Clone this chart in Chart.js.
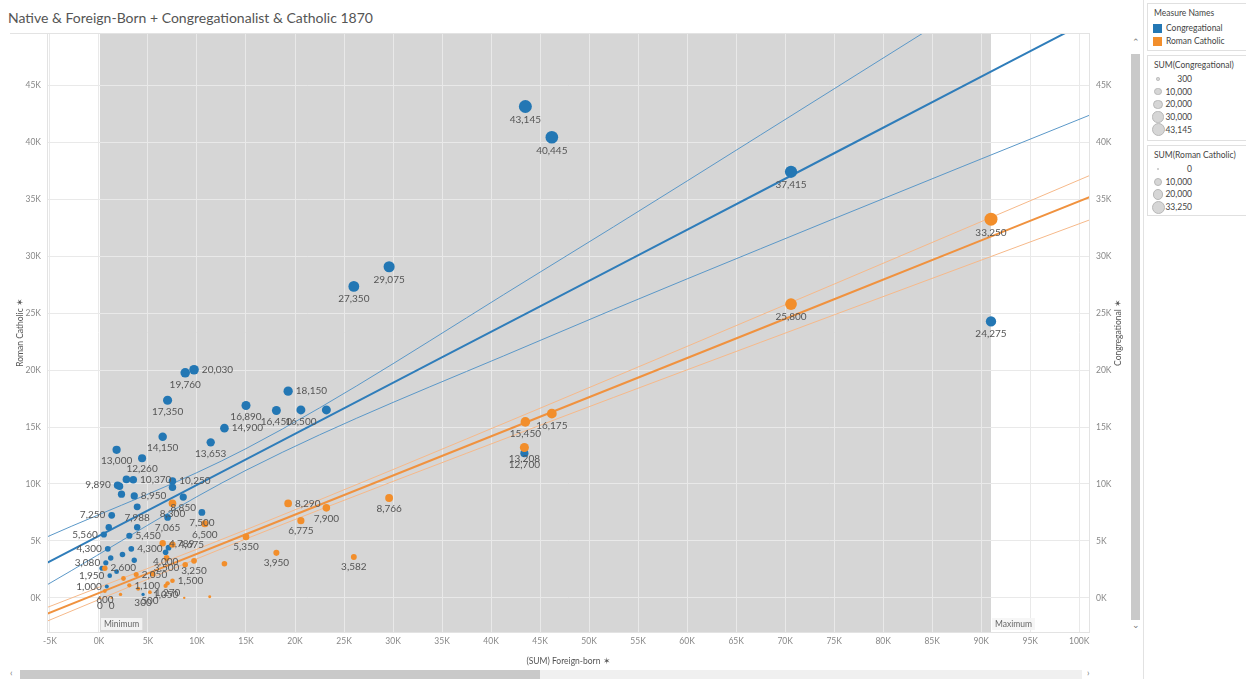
<!DOCTYPE html>
<html>
<head>
<meta charset="utf-8">
<script src="https://cdn.jsdelivr.net/npm/chart.js@4.4.0/dist/chart.umd.min.js"></script>
<style>
  html, body { margin: 0; padding: 0; background: #fff; }
  body { width: 1247px; height: 679px; overflow: hidden; position: relative; font-family: Lato, "Open Sans", sans-serif; }
  #title { position: absolute; left: 8px; top: 9px; font-size: 14px; color: #555; white-space: nowrap; }
  #chartWrap { position: absolute; left: 0; top: 0; width: 1130px; height: 666px; }
  #sep { position: absolute; left: 1143px; top: 0; width: 1px; height: 679px; background: #e2e2e2; }
  .box { position: absolute; left: 1147px; width: 99px; border: 1px solid #e0e0e0; border-right: none; box-sizing: border-box; }
  .hd { position: absolute; left: 6px; font-size: 8.5px; color: #444; white-space: nowrap; }
  .item { position: absolute; left: 18px; font-size: 8.5px; color: #444; white-space: nowrap; }
  .sw { position: absolute; left: 5px; width: 9px; height: 9px; }
  .sz { position: absolute; border-radius: 50%; background: #d6d6d6; border: 1px solid #b8b8b8; box-sizing: border-box; }
  .szl { position: absolute; left: 0; width: 44px; font-size: 8.5px; color: #444; text-align: right; line-height: 12px; }
  #vbar { position: absolute; left: 1131px; top: 54px; width: 9px; height: 566px; background: #c9c9c9; }
  .arrow { position: absolute; font-size: 9px; color: #777; }
  #htrack { position: absolute; left: 20px; top: 670px; width: 1062px; height: 9px; background: #f0f0f0; }
  #hbar { position: absolute; left: 20px; top: 670px; width: 520px; height: 9px; background: #c9c9c9; }
</style>
</head>
<body>
<div id="title">Native &amp; Foreign-Born + Congregationalist &amp; Catholic 1870</div>
<div id="chartWrap"><canvas id="c" width="1130" height="666"></canvas></div>
<div id="sep"></div>
<div id="vbar"></div>
<div class="arrow" style="left:1132px;top:36px;">&#8963;</div>
<div class="arrow" style="left:1132px;top:619px;">&#8964;</div>
<div id="htrack"></div>
<div id="hbar"></div>
<div class="arrow" style="left:10px;top:667px;">&lsaquo;</div>
<div class="arrow" style="left:1087px;top:667px;">&rsaquo;</div>
<div id="legend"></div>

<script>
// ---- Data: 1870 towns, foreign-born population vs. church membership ----
// Congregational membership, keyed by the town's foreign-born count
const congForeignBorn = [43500, 46200, 70600, 29600, 26000, 91000, 9700, 8800, 7000, 15000,
  19300, 18100, 20600, 23200, 12800, 6500, 11400, 43400, 1800, 4400,
  2800, 3500, 1900, 2100, 2300, 3600, 7500, 7500, 8600, 3900,
  1300, 7000, 10500, 500, 3100, 1000, 3900, 900, 3300, 2400,
  1200, 3600, 7100, 700, 300, 1800, 1100, 800, 4500, 6800];
const congregational = [43145, 40445, 37415, 29075, 27350, 24275, 20030, 19760, 17350, 16890,
  18150, 16450, 16500, 16500, 14900, 14150, 13653, 12700, 13000, 12260,
  10400, 10370, 9890, 9800, 9100, 8950, 10250, 9700, 8850, 7988,
  7250, 7065, 7500, 5560, 5450, 6200, 6200, 4300, 4300, 3800,
  3500, 3300, 4400, 3080, 2600, 2300, 1950, 1000, 300, 4000];

// Roman Catholic membership, keyed by the town's foreign-born count
const catholicForeignBorn = [91000, 70600, 46200, 43500, 43400, 29600, 19300, 23200, 20600, 15000,
  18100, 26000, 9700, 8800, 12800, 7500, 10800, 6500, 7500, 6900,
  3800, 600, 7500, 7000, 6800, 3100, 5200, 600, 100, 1300,
  11300, 2200, 4000, 2500, 5500, 8700];
const romanCatholic = [33250, 25800, 16175, 15450, 13208, 8766, 8290, 7900, 6775, 5350,
  3950, 3582, 3250, 2900, 3000, 8300, 6500, 4789, 4675, 3500,
  2050, 2600, 1500, 1270, 1050, 1100, 500, 600, 0, 0,
  100, 300, 800, 1700, 2100, 0];

// Where each value label sits: b = below, r = right, l = left, '' = hidden
const congLabelSide = ['b','b','b','b','b','b','r','b','b','b',
  'r','b','b','','r','b','b','b','b','b',
  '','r','l','','','r','r','','b','b',
  'l','b','b','l','r','','','l','r','',
  '','','','l','','','l','l','b','b'];
const catholicLabelSide = ['b','b','b','b','b','b','r','b','b','b',
  'b','b','b','','','b','b','r','r','b',
  'r','r','r','b','b','r','b','b','b','b',
  '','','','','',''];

// Linear trend lines with their confidence bands (value at each x)
const trendX = [-5300, 15000, 45000, 75000, 101100];
const congTrend = [3070, 12160, 25600, 39040, 50730];
const congUpper = [5350, 13100, 28600, 44700, 58800];
const congLower = [1140, 11200, 22600, 33300, 42400];
const catholicTrend = [-1400, 5580, 15900, 26220, 35200];
const catholicUpper = [-850, 5980, 16650, 27550, 37100];
const catholicLower = [-2050, 5180, 15150, 24850, 33200];

// Axis tick values
const xTicks = [-5000, 0, 5000, 10000, 15000, 20000, 25000, 30000, 35000, 40000, 45000, 50000,
  55000, 60000, 65000, 70000, 75000, 80000, 85000, 90000, 95000, 100000];
const yTicks = [0, 5000, 10000, 15000, 20000, 25000, 30000, 35000, 40000, 45000];

// Size-legend entries
const congSizeLegend = [300, 10000, 20000, 30000, 43145];
const catholicSizeLegend = [0, 10000, 20000, 33250];

// ---- Styling ----
const BLUE = '#2377b4';
const ORANGE = '#f28e2b';
const congMax = Math.max(...congregational);
const catholicMax = Math.max(...romanCatholic);
const radiusFor = (v, max) => 1.2 + 5.3 * Math.sqrt(Math.max(v, 0) / max);
const fmt = v => String(v).replace(/\B(?=(\d{3})+(?!\d))/g, ',');
const kFmt = v => (v / 1000) + 'K';

const allX = congForeignBorn.concat(catholicForeignBorn);
const bandMin = Math.min(...allX);
const bandMax = Math.max(...allX);

const pts = (xs, ys) => xs.map((x, i) => ({ x, y: ys[i] }));

function trendDataset(vals, color, width, axis) {
  return {
    type: 'line', data: pts(trendX, vals), borderColor: color, borderWidth: width,
    pointRadius: 0, tension: 0.4, cubicInterpolationMode: 'monotone', fill: false,
    yAxisID: axis, order: 3
  };
}

// Reference band from minimum to maximum foreign-born
const bandPlugin = {
  id: 'refBand',
  beforeDraw(chart) {
    const { ctx, chartArea: a, scales } = chart;
    const x0 = scales.x.getPixelForValue(bandMin);
    const x1 = scales.x.getPixelForValue(bandMax);
    ctx.save();
    ctx.fillStyle = '#d6d6d6';
    ctx.fillRect(x0, a.top, x1 - x0, a.bottom - a.top);
    ctx.restore();
  },
  afterDatasetsDraw(chart) {
    const { ctx, chartArea: a, scales } = chart;
    const x0 = scales.x.getPixelForValue(bandMin);
    const x1 = scales.x.getPixelForValue(bandMax);
    ctx.save();
    ctx.font = '8.5px Lato, sans-serif';
    ctx.textBaseline = 'middle';
    ctx.textAlign = 'left';
    [['Minimum', x0], ['Maximum', x1]].forEach(([t, x]) => {
      const w = ctx.measureText(t).width + 6;
      ctx.fillStyle = 'rgba(245,245,245,0.9)';
      ctx.fillRect(x + 1, a.bottom - 14, w, 12);
      ctx.fillStyle = '#666';
      ctx.fillText(t, x + 4, a.bottom - 7.5);
    });
    ctx.restore();
  }
};

// Value labels next to each point
const labelPlugin = {
  id: 'pointLabels',
  afterDatasetsDraw(chart) {
    const ctx = chart.ctx;
    ctx.save();
    ctx.font = '10px Lato, sans-serif';
    ctx.fillStyle = '#555';
    chart.data.datasets.forEach((ds, i) => {
      if (!ds.labelSides) return;
      const meta = chart.getDatasetMeta(i);
      meta.data.forEach((el, j) => {
        const side = ds.labelSides[j];
        if (!side) return;
        const txt = fmt(ds.data[j].y);
        const r = el.options.radius;
        if (side === 'b') {
          ctx.textAlign = 'center'; ctx.textBaseline = 'top';
          ctx.fillText(txt, el.x, el.y + r + 2);
        } else if (side === 'r') {
          ctx.textAlign = 'left'; ctx.textBaseline = 'middle';
          ctx.fillText(txt, el.x + r + 3, el.y);
        } else {
          ctx.textAlign = 'right'; ctx.textBaseline = 'middle';
          ctx.fillText(txt, el.x - r - 3, el.y);
        }
      });
    });
    ctx.restore();
  }
};

// Axis titles (both read bottom-to-top) and plot frame
const framePlugin = {
  id: 'frame',
  afterDraw(chart) {
    const { ctx, chartArea: a } = chart;
    ctx.save();
    ctx.strokeStyle = '#e3e3e3';
    ctx.lineWidth = 1;
    ctx.strokeRect(a.left + 0.5, a.top + 0.5, a.right - a.left - 1, a.bottom - a.top);
    ctx.beginPath();
    ctx.moveTo(10, a.top + 0.5); ctx.lineTo(a.left, a.top + 0.5);
    ctx.stroke();
    ctx.font = '8.5px Lato, sans-serif';
    ctx.fillStyle = '#555';
    ctx.textAlign = 'center';
    ctx.textBaseline = 'middle';
    const midY = (a.top + a.bottom) / 2;
    [['Roman Catholic \u2736', 20], ['Congregational \u2736', 1118]].forEach(([t, x]) => {
      ctx.save();
      ctx.translate(x, midY);
      ctx.rotate(-Math.PI / 2);
      ctx.fillText(t, 0, 0);
      ctx.restore();
    });
    ctx.restore();
  }
};

const tickFont = { family: 'Lato, sans-serif', size: 8.5 };

new Chart(document.getElementById('c'), {
  type: 'scatter',
  data: {
    datasets: [
      {
        label: 'Roman Catholic', data: pts(catholicForeignBorn, romanCatholic),
        backgroundColor: ORANGE, borderWidth: 0, yAxisID: 'y', order: 0,
        pointRadius: ctx => radiusFor(romanCatholic[ctx.dataIndex], catholicMax),
        labelSides: catholicLabelSide
      },
      {
        label: 'Congregational', data: pts(congForeignBorn, congregational),
        backgroundColor: BLUE, borderWidth: 0, yAxisID: 'y2', order: 1,
        pointRadius: ctx => radiusFor(congregational[ctx.dataIndex], congMax),
        labelSides: congLabelSide
      },
      trendDataset(congTrend, '#2f7dba', 2, 'y2'),
      trendDataset(congUpper, '#5b98c8', 1, 'y2'),
      trendDataset(congLower, '#5b98c8', 1, 'y2'),
      trendDataset(catholicTrend, '#f0923f', 2, 'y'),
      trendDataset(catholicUpper, '#f6b98a', 1, 'y'),
      trendDataset(catholicLower, '#f6b98a', 1, 'y')
    ]
  },
  options: {
    responsive: false,
    animation: false,
    devicePixelRatio: 1,
    layout: { padding: { top: 33, left: 0, right: 0, bottom: 0 } },
    plugins: { legend: { display: false }, tooltip: { enabled: false } },
    scales: {
      x: {
        type: 'linear', min: -5300, max: 101100,
        afterBuildTicks: s => { s.ticks = xTicks.map(v => ({ value: v })); },
        afterFit: s => { s.height = 34; },
        ticks: { callback: v => kFmt(v), color: '#888', font: tickFont, padding: 4, maxRotation: 0, autoSkip: false },
        grid: { color: '#e9e9e9', drawTicks: false },
        border: { display: false },
        title: { display: true, text: '(SUM) Foreign-born \u2736', color: '#555', font: tickFont, padding: { top: 1, bottom: 0 } }
      },
      y: {
        type: 'linear', position: 'left', min: -3000, max: 49600,
        afterBuildTicks: s => { s.ticks = yTicks.map(v => ({ value: v })); },
        afterFit: s => { s.width = 47; },
        ticks: { callback: v => kFmt(v), color: '#888', font: tickFont, padding: 6 },
        grid: { color: '#e9e9e9', drawTicks: false },
        border: { display: false }
      },
      y2: {
        type: 'linear', position: 'right', min: -3000, max: 49600,
        afterBuildTicks: s => { s.ticks = yTicks.map(v => ({ value: v })); },
        afterFit: s => { s.width = 40; },
        ticks: { callback: v => kFmt(v), color: '#888', font: tickFont, padding: 6 },
        grid: { display: false, drawTicks: false },
        border: { display: false }
      }
    }
  },
  plugins: [bandPlugin, labelPlugin, framePlugin]
});

// ---- Legend panel ----
const legend = document.getElementById('legend');
function add(html) { legend.insertAdjacentHTML('beforeend', html); }
add(`<div class="box" style="top:3px;height:48px">
  <div class="hd" style="top:4px">Measure Names</div>
  <div class="sw" style="top:20px;background:${BLUE}"></div><div class="item" style="top:19px">Congregational</div>
  <div class="sw" style="top:33px;background:${ORANGE}"></div><div class="item" style="top:32px">Roman Catholic</div>
</div>`);
function sizeBox(top, height, title, values, max) {
  let inner = `<div class="hd" style="top:4px">${title}</div>`;
  values.forEach((v, i) => {
    const r = radiusFor(v, max);
    const cy = 23 + i * 12.7;
    inner += `<div class="sz" style="left:${10 - r}px;top:${cy - r}px;width:${2 * r}px;height:${2 * r}px"></div>`;
    inner += `<div class="szl" style="top:${cy - 6}px">${fmt(v)}</div>`;
  });
  add(`<div class="box" style="top:${top}px;height:${height}px">${inner}</div>`);
}
sizeBox(55, 86, 'SUM(Congregational)', congSizeLegend, congMax);
sizeBox(145, 71, 'SUM(Roman Catholic)', catholicSizeLegend, catholicMax);
</script>
</body>
</html>
